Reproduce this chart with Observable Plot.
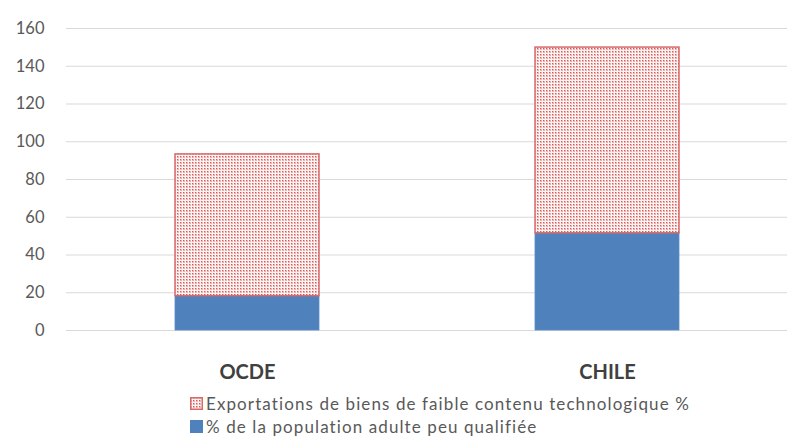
<!DOCTYPE html>
<html>
<head>
<meta charset="utf-8">
<script src="https://cdn.jsdelivr.net/npm/d3@7"></script>
<script src="https://cdn.jsdelivr.net/npm/@observablehq/plot@0.6"></script>
<style>
  html, body { margin: 0; padding: 0; background: #fff; }
  body { width: 787px; height: 447px; overflow: hidden; font-family: Lato, "Open Sans", sans-serif; }
  #legend { position: absolute; left: 190px; top: 392px; font-size: 17px; letter-spacing: 1.1px; color: #595959; line-height: 23px; }
  .item { display: flex; align-items: center; white-space: nowrap; }
  .item svg { margin-right: 3px; }
</style>
</head>
<body>
<div id="chart"></div>
<div id="legend"></div>
<script>
const categories = ["OCDE", "CHILE"];
const lowSkilledPct = [18.2, 51.5];          // % de la population adulte peu qualifiée
const lowTechExportsPct = [75.1, 98.4];      // Exportations de biens de faible contenu technologique %
const yTicks = [0, 20, 40, 60, 80, 100, 120, 140, 160];
const seriesNames = ["Exportations de biens de faible contenu technologique %", "% de la population adulte peu qualifiée"];

const blue = "#4f81bd";
const redStroke = "#d76b6b";

const rows = categories.map((c, i) => ({
  cat: c,
  low: lowSkilledPct[i],
  exp: lowTechExportsPct[i]
}));

const chart = Plot.plot({
  width: 787,
  height: 385,
  marginTop: 28,
  marginBottom: 55,
  marginLeft: 66,
  marginRight: 0,
  style: { fontFamily: "Lato, 'Open Sans', sans-serif", background: "#fff" },
  x: { domain: categories, paddingInner: 0.6, paddingOuter: 0.3, label: null },
  y: { domain: [0, 160], label: null },
  marks: [
    Plot.gridY(yTicks, { stroke: "#d9d9d9", strokeOpacity: 1, strokeWidth: 1.2 }),
    Plot.axisY(yTicks, { tickSize: 0, tickPadding: 22, fontSize: 16.5, fill: "#595959", label: null }),
    Plot.axisX({ tickSize: 0, tickPadding: 34, fontSize: 20, fontWeight: "bold", fill: "#404040", label: null, style: { letterSpacing: "0.6px" } }),
    Plot.barY(rows, { x: "cat", y1: 0, y2: "low", fill: blue, stroke: "#5b8cc6", strokeWidth: 0.8 }),
    Plot.barY(rows, { x: "cat", y1: "low", y2: d => d.low + d.exp, fill: "url(#dots)", stroke: redStroke, strokeWidth: 1.5 })
  ]
});

// pattern definition for the dotted fill
const ns = "http://www.w3.org/2000/svg";
const defs = document.createElementNS(ns, "defs");
defs.innerHTML = `
  <pattern id="dots" width="3" height="3" patternUnits="userSpaceOnUse">
    <rect width="3" height="3" fill="#fdf4f4"/>
    <rect width="2" height="2" fill="#efb0b0"/>
    <rect width="1" height="1" fill="#d65a5a"/>
  </pattern>
  <pattern id="dots2" width="3" height="3" patternUnits="userSpaceOnUse">
    <rect width="3" height="3" fill="#fdf4f4"/>
    <rect width="2" height="2" fill="#efb0b0"/>
    <rect width="1" height="1" fill="#d65a5a"/>
  </pattern>`;
chart.insertBefore(defs, chart.firstChild);
document.getElementById("chart").appendChild(chart);

// legend
const legend = document.getElementById("legend");
legend.innerHTML = `
  <div class="item"><svg width="13" height="13"><rect x="0.75" y="0.75" width="11.5" height="11.5" fill="url(#dots2)" stroke="${redStroke}" stroke-width="1.5"/></svg><span>${seriesNames[0]}</span></div>
  <div class="item"><svg width="13" height="13"><rect width="13" height="13" fill="${blue}"/></svg><span>${seriesNames[1]}</span></div>`;
</script>
</body>
</html>
